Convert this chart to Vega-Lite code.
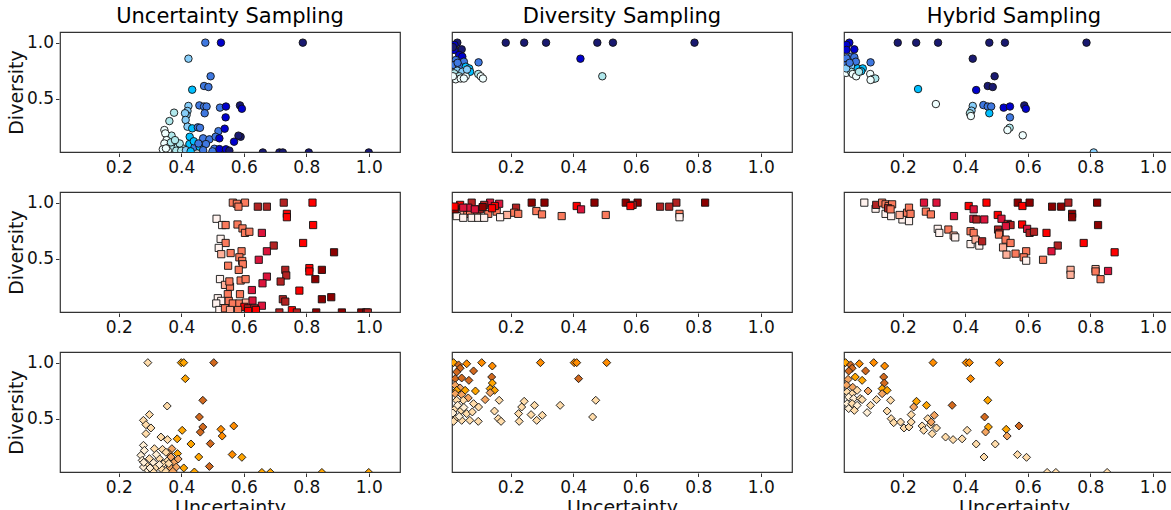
{
"$schema":"https://vega.github.io/schema/vega-lite/v6.json",
"background":"white",
"padding":{"left":7,"top":6,"right":0,"bottom":0},
"config":{
 "font":"DejaVu Sans",
 "view":{"stroke":"#333","strokeWidth":1.2},
 "axis":{"grid":false,"domain":false,"labelFontSize":17,"labelColor":"#111","tickColor":"#333","tickSize":3.5,"labelPadding":2,"titleFontSize":19,"titleFontWeight":"normal","titleColor":"#111","titlePadding":0},
 "axisX":{"labelPadding":3,"titlePadding":3}
},
"datasets":{
"blue":[
{"m":"U","u":0.477,"d":1.0,"c":4},{"m":"U","u":0.527,"d":1.0,"c":5},{"m":"U","u":0.789,"d":1.0,"c":6},{"m":"U","u":0.423,"d":0.857,"c":2},{"m":"U","u":0.494,"d":0.70,"c":4},{"m":"U","u":0.435,"d":0.58,"c":3},{"m":"U","u":0.473,"d":0.613,"c":4},{"m":"U","u":0.487,"d":0.604,"c":4},{"m":"U","u":0.423,"d":0.435,"c":2},{"m":"U","u":0.458,"d":0.44,"c":4},{"m":"U","u":0.473,"d":0.43,"c":4},{"m":"U","u":0.481,"d":0.43,"c":4},{"m":"U","u":0.524,"d":0.42,"c":4},{"m":"U","u":0.543,"d":0.43,"c":5},{"m":"U","u":0.588,"d":0.44,"c":6},{"m":"U","u":0.594,"d":0.41,"c":5},{"m":"U","u":0.42,"d":0.39,"c":2},{"m":"U","u":0.417,"d":0.354,"c":2},{"m":"U","u":0.377,"d":0.375,"c":1},{"m":"U","u":0.362,"d":0.30,"c":1},{"m":"U","u":0.412,"d":0.37,"c":2},{"m":"U","u":0.414,"d":0.31,"c":2},{"m":"U","u":0.475,"d":0.37,"c":4},{"m":"U","u":0.542,"d":0.333,"c":5},{"m":"U","u":0.346,"d":0.22,"c":0},{"m":"U","u":0.369,"d":0.17,"c":1},{"m":"U","u":0.42,"d":0.25,"c":2},{"m":"U","u":0.435,"d":0.235,"c":3},{"m":"U","u":0.453,"d":0.244,"c":4},{"m":"U","u":0.46,"d":0.24,"c":4},{"m":"U","u":0.519,"d":0.21,"c":4},{"m":"U","u":0.539,"d":0.232,"c":5},{"m":"U","u":0.427,"d":0.16,"c":3},{"m":"U","u":0.47,"d":0.146,"c":4},{"m":"U","u":0.49,"d":0.137,"c":4},{"m":"U","u":0.51,"d":0.16,"c":4},{"m":"U","u":0.522,"d":0.146,"c":5},{"m":"U","u":0.59,"d":0.16,"c":6},{"m":"U","u":0.583,"d":0.17,"c":6},{"m":"U","u":0.569,"d":0.116,"c":5},{"m":"U","u":0.426,"d":0.095,"c":3},{"m":"U","u":0.443,"d":0.07,"c":4},{"m":"U","u":0.459,"d":0.07,"c":3},{"m":"U","u":0.479,"d":0.095,"c":4},{"m":"U","u":0.506,"d":0.053,"c":4},{"m":"U","u":0.522,"d":0.05,"c":5},{"m":"U","u":0.543,"d":0.048,"c":5},{"m":"U","u":0.554,"d":0.036,"c":6},{"m":"U","u":0.349,"d":0.19,"c":0},{"m":"U","u":0.353,"d":0.13,"c":0},{"m":"U","u":0.346,"d":0.10,"c":0},{"m":"U","u":0.362,"d":0.07,"c":1},{"m":"U","u":0.373,"d":0.056,"c":1},{"m":"U","u":0.389,"d":0.07,"c":1},{"m":"U","u":0.405,"d":0.056,"c":1},{"m":"U","u":0.341,"d":0.048,"c":0},{"m":"U","u":0.357,"d":0.036,"c":0},{"m":"U","u":0.384,"d":0.036,"c":1},{"m":"U","u":0.4,"d":0.036,"c":1},{"m":"U","u":0.415,"d":0.04,"c":2},{"m":"U","u":0.351,"d":0.056,"c":0},{"m":"U","u":0.367,"d":0.11,"c":1},{"m":"U","u":0.44,"d":0.12,"c":3},{"m":"U","u":0.455,"d":0.1,"c":4},{"m":"U","u":0.395,"d":0.1,"c":1},{"m":"U","u":0.38,"d":0.13,"c":1},{"m":"U","u":0.43,"d":0.03,"c":3},{"m":"U","u":0.47,"d":0.04,"c":4},{"m":"U","u":0.5,"d":0.03,"c":4},{"m":"U","u":0.661,"d":0.02,"c":6},{"m":"U","u":0.714,"d":0.02,"c":6},{"m":"U","u":0.725,"d":0.02,"c":6},{"m":"U","u":0.808,"d":0.02,"c":6},{"m":"U","u":1.0,"d":0.02,"c":6},
{"m":"D","u":0.184,"d":1.0,"c":6},{"m":"D","u":0.243,"d":1.0,"c":6},{"m":"D","u":0.313,"d":1.0,"c":6},{"m":"D","u":0.477,"d":1.0,"c":6},{"m":"D","u":0.527,"d":1.0,"c":6},{"m":"D","u":0.788,"d":1.0,"c":6},{"m":"D","u":0.423,"d":0.857,"c":5},{"m":"D","u":0.493,"d":0.70,"c":1},{"m":"D","u":0.097,"d":0.824,"c":4},{"m":"D","u":0.096,"d":0.72,"c":1},{"m":"D","u":0.104,"d":0.70,"c":0},{"m":"D","u":0.111,"d":0.68,"c":0},{"m":"D","u":0.029,"d":1.0,"c":6},{"m":"D","u":0.02,"d":0.98,"c":5},{"m":"D","u":0.043,"d":0.94,"c":6},{"m":"D","u":0.019,"d":0.935,"c":5},{"m":"D","u":0.035,"d":0.89,"c":5},{"m":"D","u":0.045,"d":0.875,"c":5},{"m":"D","u":0.05,"d":0.83,"c":4},{"m":"D","u":0.024,"d":0.845,"c":4},{"m":"D","u":0.019,"d":0.80,"c":4},{"m":"D","u":0.035,"d":0.79,"c":4},{"m":"D","u":0.056,"d":0.785,"c":3},{"m":"D","u":0.067,"d":0.77,"c":3},{"m":"D","u":0.07,"d":0.74,"c":3},{"m":"D","u":0.029,"d":0.75,"c":2},{"m":"D","u":0.045,"d":0.74,"c":2},{"m":"D","u":0.019,"d":0.726,"c":1},{"m":"D","u":0.035,"d":0.70,"c":1},{"m":"D","u":0.056,"d":0.70,"c":0},{"m":"D","u":0.024,"d":0.673,"c":0},{"m":"D","u":0.04,"d":0.68,"c":0},{"m":"D","u":0.05,"d":0.68,"c":0},{"m":"D","u":0.015,"d":0.96,"c":6},{"m":"D","u":0.03,"d":0.82,"c":4},{"m":"D","u":0.06,"d":0.76,"c":2},{"m":"D","u":0.015,"d":0.70,"c":0},
{"m":"H","u":0.184,"d":1.0,"c":6},{"m":"H","u":0.243,"d":1.0,"c":6},{"m":"H","u":0.313,"d":1.0,"c":6},{"m":"H","u":0.477,"d":1.0,"c":6},{"m":"H","u":0.527,"d":1.0,"c":6},{"m":"H","u":0.788,"d":1.0,"c":6},{"m":"H","u":0.424,"d":0.857,"c":6},{"m":"H","u":0.494,"d":0.70,"c":6},{"m":"H","u":0.435,"d":0.577,"c":5},{"m":"H","u":0.472,"d":0.613,"c":6},{"m":"H","u":0.488,"d":0.604,"c":6},{"m":"H","u":0.249,"d":0.586,"c":3},{"m":"H","u":0.306,"d":0.452,"c":0},{"m":"H","u":0.424,"d":0.435,"c":2},{"m":"H","u":0.42,"d":0.393,"c":2},{"m":"H","u":0.415,"d":0.37,"c":1},{"m":"H","u":0.418,"d":0.345,"c":0},{"m":"H","u":0.458,"d":0.443,"c":4},{"m":"H","u":0.472,"d":0.43,"c":4},{"m":"H","u":0.483,"d":0.43,"c":4},{"m":"H","u":0.477,"d":0.37,"c":3},{"m":"H","u":0.523,"d":0.42,"c":5},{"m":"H","u":0.543,"d":0.43,"c":5},{"m":"H","u":0.543,"d":0.333,"c":4},{"m":"H","u":0.589,"d":0.44,"c":6},{"m":"H","u":0.594,"d":0.41,"c":5},{"m":"H","u":0.542,"d":0.24,"c":1},{"m":"H","u":0.535,"d":0.22,"c":0},{"m":"H","u":0.584,"d":0.173,"c":0},{"m":"H","u":0.811,"d":0.02,"c":2},{"m":"H","u":0.097,"d":0.824,"c":4},{"m":"H","u":0.096,"d":0.72,"c":0},{"m":"H","u":0.104,"d":0.675,"c":0},{"m":"H","u":0.112,"d":0.68,"c":1},{"m":"H","u":0.097,"d":0.667,"c":0},{"m":"H","u":0.029,"d":1.0,"c":5},{"m":"H","u":0.02,"d":0.98,"c":5},{"m":"H","u":0.045,"d":0.94,"c":5},{"m":"H","u":0.02,"d":0.935,"c":5},{"m":"H","u":0.035,"d":0.875,"c":4},{"m":"H","u":0.045,"d":0.87,"c":4},{"m":"H","u":0.05,"d":0.83,"c":4},{"m":"H","u":0.02,"d":0.86,"c":4},{"m":"H","u":0.019,"d":0.80,"c":4},{"m":"H","u":0.035,"d":0.785,"c":2},{"m":"H","u":0.056,"d":0.77,"c":3},{"m":"H","u":0.072,"d":0.77,"c":3},{"m":"H","u":0.067,"d":0.745,"c":3},{"m":"H","u":0.019,"d":0.73,"c":0},{"m":"H","u":0.035,"d":0.74,"c":1},{"m":"H","u":0.04,"d":0.72,"c":0},{"m":"H","u":0.051,"d":0.70,"c":0},{"m":"H","u":0.019,"d":0.77,"c":2},{"m":"H","u":0.03,"d":0.82,"c":4},{"m":"H","u":0.06,"d":0.74,"c":1}
],
"red":[
{"m":"U","u":0.565,"d":1.0,"c":2},{"m":"U","u":0.578,"d":0.99,"c":2},{"m":"U","u":0.604,"d":1.0,"c":2},{"m":"U","u":0.583,"d":0.964,"c":2},{"m":"U","u":0.645,"d":0.964,"c":5},{"m":"U","u":0.674,"d":0.964,"c":5},{"m":"U","u":0.728,"d":1.0,"c":5},{"m":"U","u":0.82,"d":1.0,"c":3},{"m":"U","u":0.738,"d":0.90,"c":3},{"m":"U","u":0.738,"d":0.87,"c":3},{"m":"U","u":0.513,"d":0.856,"c":0},{"m":"U","u":0.531,"d":0.80,"c":0},{"m":"U","u":0.542,"d":0.80,"c":2},{"m":"U","u":0.58,"d":0.805,"c":2},{"m":"U","u":0.596,"d":0.77,"c":2},{"m":"U","u":0.604,"d":0.73,"c":2},{"m":"U","u":0.618,"d":0.74,"c":2},{"m":"U","u":0.658,"d":0.73,"c":4},{"m":"U","u":0.822,"d":0.80,"c":3},{"m":"U","u":0.526,"d":0.677,"c":0},{"m":"U","u":0.542,"d":0.64,"c":2},{"m":"U","u":0.52,"d":0.596,"c":0},{"m":"U","u":0.528,"d":0.54,"c":1},{"m":"U","u":0.558,"d":0.55,"c":2},{"m":"U","u":0.593,"d":0.566,"c":2},{"m":"U","u":0.586,"d":0.512,"c":2},{"m":"U","u":0.595,"d":0.48,"c":2},{"m":"U","u":0.597,"d":0.45,"c":2},{"m":"U","u":0.696,"d":0.617,"c":5},{"m":"U","u":0.674,"d":0.566,"c":4},{"m":"U","u":0.648,"d":0.49,"c":4},{"m":"U","u":0.79,"d":0.64,"c":3},{"m":"U","u":0.889,"d":0.557,"c":6},{"m":"U","u":0.55,"d":0.437,"c":2},{"m":"U","u":0.584,"d":0.40,"c":2},{"m":"U","u":0.524,"d":0.318,"c":0},{"m":"U","u":0.54,"d":0.266,"c":1},{"m":"U","u":0.556,"d":0.25,"c":2},{"m":"U","u":0.554,"d":0.297,"c":2},{"m":"U","u":0.59,"d":0.305,"c":2},{"m":"U","u":0.606,"d":0.317,"c":2},{"m":"U","u":0.674,"d":0.34,"c":4},{"m":"U","u":0.66,"d":0.28,"c":4},{"m":"U","u":0.733,"d":0.40,"c":5},{"m":"U","u":0.736,"d":0.35,"c":5},{"m":"U","u":0.718,"d":0.296,"c":5},{"m":"U","u":0.81,"d":0.416,"c":3},{"m":"U","u":0.81,"d":0.386,"c":3},{"m":"U","u":0.85,"d":0.40,"c":6},{"m":"U","u":0.829,"d":0.317,"c":6},{"m":"U","u":0.626,"d":0.22,"c":4},{"m":"U","u":0.778,"d":0.215,"c":3},{"m":"U","u":0.85,"d":0.138,"c":6},{"m":"U","u":0.88,"d":0.156,"c":6},{"m":"U","u":0.725,"d":0.138,"c":5},{"m":"U","u":0.733,"d":0.117,"c":5},{"m":"U","u":0.588,"d":0.183,"c":2},{"m":"U","u":0.549,"d":0.183,"c":2},{"m":"U","u":0.517,"d":0.147,"c":0},{"m":"U","u":0.528,"d":0.123,"c":0},{"m":"U","u":0.512,"d":0.10,"c":0},{"m":"U","u":0.552,"d":0.123,"c":2},{"m":"U","u":0.565,"d":0.10,"c":2},{"m":"U","u":0.586,"d":0.10,"c":2},{"m":"U","u":0.607,"d":0.108,"c":1},{"m":"U","u":0.628,"d":0.126,"c":4},{"m":"U","u":0.658,"d":0.08,"c":4},{"m":"U","u":0.602,"d":0.07,"c":3},{"m":"U","u":0.613,"d":0.057,"c":5},{"m":"U","u":0.634,"d":0.057,"c":5},{"m":"U","u":0.522,"d":0.042,"c":0},{"m":"U","u":0.54,"d":0.057,"c":2},{"m":"U","u":0.556,"d":0.042,"c":1},{"m":"U","u":0.582,"d":0.042,"c":2},{"m":"U","u":0.614,"d":0.033,"c":3},{"m":"U","u":0.639,"d":0.042,"c":3},{"m":"U","u":0.714,"d":0.02,"c":5},{"m":"U","u":0.754,"d":0.04,"c":3},{"m":"U","u":0.77,"d":0.02,"c":5},{"m":"U","u":0.832,"d":0.02,"c":6},{"m":"U","u":0.914,"d":0.02,"c":6},{"m":"U","u":0.976,"d":0.02,"c":6},{"m":"U","u":0.992,"d":0.02,"c":6},{"m":"U","u":0.997,"d":0.02,"c":5},
{"m":"D","u":0.267,"d":1.0,"c":6},{"m":"D","u":0.308,"d":1.0,"c":6},{"m":"D","u":0.468,"d":1.0,"c":6},{"m":"D","u":0.568,"d":1.0,"c":6},{"m":"D","u":0.606,"d":1.0,"c":6},{"m":"D","u":0.73,"d":1.0,"c":5},{"m":"D","u":0.822,"d":1.0,"c":6},{"m":"D","u":0.59,"d":0.98,"c":5},{"m":"D","u":0.583,"d":0.97,"c":3},{"m":"D","u":0.411,"d":0.97,"c":3},{"m":"D","u":0.425,"d":0.94,"c":4},{"m":"D","u":0.217,"d":0.955,"c":5},{"m":"D","u":0.678,"d":0.964,"c":5},{"m":"D","u":0.707,"d":0.964,"c":5},{"m":"D","u":0.74,"d":0.90,"c":2},{"m":"D","u":0.74,"d":0.87,"c":0},{"m":"D","u":0.282,"d":0.925,"c":2},{"m":"D","u":0.30,"d":0.895,"c":2},{"m":"D","u":0.504,"d":0.89,"c":2},{"m":"D","u":0.363,"d":0.88,"c":2},{"m":"D","u":0.211,"d":0.91,"c":2},{"m":"D","u":0.224,"d":0.90,"c":2},{"m":"D","u":0.188,"d":0.89,"c":1},{"m":"D","u":0.027,"d":0.895,"c":2},{"m":"D","u":0.053,"d":0.90,"c":2},{"m":"D","u":0.091,"d":0.90,"c":2},{"m":"D","u":0.128,"d":0.90,"c":2},{"m":"D","u":0.155,"d":0.92,"c":2},{"m":"D","u":0.038,"d":0.91,"c":1},{"m":"D","u":0.07,"d":0.925,"c":2},{"m":"D","u":0.027,"d":0.88,"c":0},{"m":"D","u":0.048,"d":0.865,"c":0},{"m":"D","u":0.075,"d":0.865,"c":0},{"m":"D","u":0.096,"d":0.865,"c":0},{"m":"D","u":0.115,"d":0.865,"c":0},{"m":"D","u":0.166,"d":0.87,"c":0},{"m":"D","u":0.038,"d":0.98,"c":3},{"m":"D","u":0.075,"d":1.0,"c":5},{"m":"D","u":0.134,"d":1.0,"c":4},{"m":"D","u":0.115,"d":0.98,"c":5},{"m":"D","u":0.163,"d":0.99,"c":4},{"m":"D","u":0.149,"d":0.97,"c":3},{"m":"D","u":0.064,"d":0.955,"c":4},{"m":"D","u":0.101,"d":0.94,"c":5},{"m":"D","u":0.022,"d":0.94,"c":6},{"m":"D","u":0.048,"d":0.955,"c":4},{"m":"D","u":0.11,"d":0.96,"c":6},{"m":"D","u":0.14,"d":0.95,"c":3},{"m":"D","u":0.02,"d":0.965,"c":3},{"m":"D","u":0.085,"d":0.94,"c":4},
{"m":"H","u":0.077,"d":1.0,"c":0},{"m":"H","u":0.113,"d":0.946,"c":0},{"m":"H","u":0.145,"d":0.90,"c":0},{"m":"H","u":0.163,"d":0.88,"c":0},{"m":"H","u":0.199,"d":0.85,"c":0},{"m":"H","u":0.22,"d":0.835,"c":0},{"m":"H","u":0.115,"d":0.98,"c":5},{"m":"H","u":0.134,"d":1.0,"c":2},{"m":"H","u":0.145,"d":0.985,"c":2},{"m":"H","u":0.155,"d":0.97,"c":2},{"m":"H","u":0.166,"d":0.985,"c":2},{"m":"H","u":0.153,"d":0.95,"c":5},{"m":"H","u":0.161,"d":0.94,"c":2},{"m":"H","u":0.19,"d":0.89,"c":1},{"m":"H","u":0.214,"d":0.91,"c":2},{"m":"H","u":0.22,"d":0.955,"c":2},{"m":"H","u":0.225,"d":0.90,"c":2},{"m":"H","u":0.268,"d":1.0,"c":4},{"m":"H","u":0.308,"d":1.0,"c":4},{"m":"H","u":0.274,"d":0.92,"c":2},{"m":"H","u":0.29,"d":0.895,"c":2},{"m":"H","u":0.364,"d":0.88,"c":4},{"m":"H","u":0.411,"d":0.97,"c":3},{"m":"H","u":0.427,"d":0.94,"c":4},{"m":"H","u":0.468,"d":1.0,"c":3},{"m":"H","u":0.426,"d":0.856,"c":4},{"m":"H","u":0.436,"d":0.85,"c":5},{"m":"H","u":0.461,"d":0.85,"c":4},{"m":"H","u":0.504,"d":0.89,"c":3},{"m":"H","u":0.516,"d":0.856,"c":4},{"m":"H","u":0.536,"d":0.81,"c":5},{"m":"H","u":0.545,"d":0.80,"c":5},{"m":"H","u":0.53,"d":0.79,"c":4},{"m":"H","u":0.568,"d":1.0,"c":6},{"m":"H","u":0.583,"d":0.97,"c":3},{"m":"H","u":0.606,"d":1.0,"c":6},{"m":"H","u":0.582,"d":0.805,"c":3},{"m":"H","u":0.598,"d":0.766,"c":4},{"m":"H","u":0.606,"d":0.73,"c":5},{"m":"H","u":0.62,"d":0.74,"c":5},{"m":"H","u":0.66,"d":0.73,"c":3},{"m":"H","u":0.678,"d":0.964,"c":6},{"m":"H","u":0.707,"d":0.964,"c":6},{"m":"H","u":0.73,"d":1.0,"c":5},{"m":"H","u":0.822,"d":1.0,"c":6},{"m":"H","u":0.742,"d":0.90,"c":6},{"m":"H","u":0.742,"d":0.87,"c":6},{"m":"H","u":0.825,"d":0.80,"c":6},{"m":"H","u":0.779,"d":0.64,"c":3},{"m":"H","u":0.878,"d":0.557,"c":3},{"m":"H","u":0.696,"d":0.617,"c":5},{"m":"H","u":0.676,"d":0.566,"c":4},{"m":"H","u":0.649,"d":0.49,"c":2},{"m":"H","u":0.505,"d":0.76,"c":5},{"m":"H","u":0.51,"d":0.73,"c":5},{"m":"H","u":0.508,"d":0.715,"c":2},{"m":"H","u":0.312,"d":0.766,"c":0},{"m":"H","u":0.317,"d":0.73,"c":0},{"m":"H","u":0.346,"d":0.76,"c":2},{"m":"H","u":0.363,"d":0.706,"c":1},{"m":"H","u":0.368,"d":0.69,"c":0},{"m":"H","u":0.417,"d":0.745,"c":2},{"m":"H","u":0.427,"d":0.73,"c":2},{"m":"H","u":0.417,"d":0.63,"c":0},{"m":"H","u":0.433,"d":0.67,"c":1},{"m":"H","u":0.445,"d":0.617,"c":0},{"m":"H","u":0.454,"d":0.655,"c":5},{"m":"H","u":0.521,"d":0.60,"c":1},{"m":"H","u":0.532,"d":0.536,"c":1},{"m":"H","u":0.529,"d":0.67,"c":2},{"m":"H","u":0.545,"d":0.64,"c":2},{"m":"H","u":0.561,"d":0.545,"c":2},{"m":"H","u":0.595,"d":0.566,"c":2},{"m":"H","u":0.587,"d":0.512,"c":2},{"m":"H","u":0.595,"d":0.482,"c":0},{"m":"H","u":0.737,"d":0.40,"c":1},{"m":"H","u":0.737,"d":0.356,"c":1},{"m":"H","u":0.817,"d":0.407,"c":1},{"m":"H","u":0.817,"d":0.386,"c":2},{"m":"H","u":0.833,"d":0.317,"c":2},{"m":"H","u":0.857,"d":0.39,"c":4}
],
"orange":[
{"m":"U","u":0.293,"d":1.0,"c":1},{"m":"U","u":0.40,"d":1.0,"c":3},{"m":"U","u":0.408,"d":1.0,"c":3},{"m":"U","u":0.504,"d":1.0,"c":5},{"m":"U","u":0.413,"d":0.857,"c":3},{"m":"U","u":0.355,"d":0.613,"c":1},{"m":"U","u":0.469,"d":0.664,"c":5},{"m":"U","u":0.298,"d":0.536,"c":1},{"m":"U","u":0.279,"d":0.485,"c":1},{"m":"U","u":0.287,"d":0.446,"c":1},{"m":"U","u":0.303,"d":0.417,"c":1},{"m":"U","u":0.458,"d":0.515,"c":5},{"m":"U","u":0.469,"d":0.426,"c":5},{"m":"U","u":0.461,"d":0.38,"c":5},{"m":"U","u":0.403,"d":0.396,"c":3},{"m":"U","u":0.527,"d":0.405,"c":4},{"m":"U","u":0.531,"d":0.345,"c":4},{"m":"U","u":0.568,"d":0.435,"c":4},{"m":"U","u":0.287,"d":0.366,"c":1},{"m":"U","u":0.335,"d":0.336,"c":1},{"m":"U","u":0.356,"d":0.313,"c":1},{"m":"U","u":0.387,"d":0.32,"c":3},{"m":"U","u":0.431,"d":0.274,"c":3},{"m":"U","u":0.493,"d":0.277,"c":5},{"m":"U","u":0.279,"d":0.262,"c":0},{"m":"U","u":0.282,"d":0.217,"c":0},{"m":"U","u":0.314,"d":0.232,"c":1},{"m":"U","u":0.34,"d":0.226,"c":1},{"m":"U","u":0.37,"d":0.232,"c":2},{"m":"U","u":0.361,"d":0.188,"c":2},{"m":"U","u":0.388,"d":0.188,"c":3},{"m":"U","u":0.456,"d":0.158,"c":3},{"m":"U","u":0.563,"d":0.18,"c":4},{"m":"U","u":0.594,"d":0.155,"c":3},{"m":"U","u":0.408,"d":0.06,"c":3},{"m":"U","u":0.442,"d":0.024,"c":3},{"m":"U","u":0.49,"d":0.074,"c":5},{"m":"U","u":0.271,"d":0.173,"c":0},{"m":"U","u":0.275,"d":0.128,"c":0},{"m":"U","u":0.287,"d":0.09,"c":1},{"m":"U","u":0.298,"d":0.143,"c":1},{"m":"U","u":0.311,"d":0.107,"c":0},{"m":"U","u":0.32,"d":0.068,"c":1},{"m":"U","u":0.33,"d":0.143,"c":1},{"m":"U","u":0.343,"d":0.098,"c":1},{"m":"U","u":0.357,"d":0.128,"c":1},{"m":"U","u":0.364,"d":0.068,"c":2},{"m":"U","u":0.378,"d":0.113,"c":2},{"m":"U","u":0.384,"d":0.068,"c":2},{"m":"U","u":0.293,"d":0.04,"c":0},{"m":"U","u":0.309,"d":0.03,"c":1},{"m":"U","u":0.338,"d":0.048,"c":1},{"m":"U","u":0.351,"d":0.03,"c":1},{"m":"U","u":0.373,"d":0.03,"c":2},{"m":"U","u":0.279,"d":0.068,"c":0},{"m":"U","u":0.367,"d":0.158,"c":2},{"m":"U","u":0.351,"d":0.20,"c":1},{"m":"U","u":0.32,"d":0.18,"c":0},{"m":"U","u":0.3,"d":0.06,"c":0},{"m":"U","u":0.33,"d":0.09,"c":0},{"m":"U","u":0.36,"d":0.1,"c":1},{"m":"U","u":0.39,"d":0.14,"c":2},{"m":"U","u":0.28,"d":0.11,"c":0},{"m":"U","u":0.658,"d":0.02,"c":3},{"m":"U","u":0.685,"d":0.02,"c":3},{"m":"U","u":0.85,"d":0.02,"c":3},{"m":"U","u":1.0,"d":0.02,"c":3},
{"m":"D","u":0.017,"d":1.0,"c":3},{"m":"D","u":0.033,"d":0.98,"c":5},{"m":"D","u":0.038,"d":0.95,"c":5},{"m":"D","u":0.027,"d":0.917,"c":5},{"m":"D","u":0.059,"d":0.99,"c":4},{"m":"D","u":0.107,"d":1.0,"c":4},{"m":"D","u":0.141,"d":0.97,"c":4},{"m":"D","u":0.081,"d":0.926,"c":5},{"m":"D","u":0.295,"d":1.0,"c":4},{"m":"D","u":0.403,"d":1.0,"c":4},{"m":"D","u":0.411,"d":1.0,"c":4},{"m":"D","u":0.507,"d":1.0,"c":4},{"m":"D","u":0.417,"d":0.857,"c":5},{"m":"D","u":0.022,"d":0.857,"c":5},{"m":"D","u":0.043,"d":0.863,"c":5},{"m":"D","u":0.066,"d":0.842,"c":5},{"m":"D","u":0.139,"d":0.872,"c":5},{"m":"D","u":0.141,"d":0.818,"c":3},{"m":"D","u":0.022,"d":0.798,"c":2},{"m":"D","u":0.038,"d":0.774,"c":2},{"m":"D","u":0.054,"d":0.753,"c":3},{"m":"D","u":0.027,"d":0.753,"c":3},{"m":"D","u":0.087,"d":0.747,"c":3},{"m":"D","u":0.134,"d":0.768,"c":3},{"m":"D","u":0.148,"d":0.753,"c":3},{"m":"D","u":0.134,"d":0.732,"c":2},{"m":"D","u":0.118,"d":0.67,"c":2},{"m":"D","u":0.022,"d":0.723,"c":2},{"m":"D","u":0.043,"d":0.714,"c":2},{"m":"D","u":0.064,"d":0.685,"c":2},{"m":"D","u":0.048,"d":0.664,"c":1},{"m":"D","u":0.027,"d":0.664,"c":1},{"m":"D","u":0.081,"d":0.634,"c":1},{"m":"D","u":0.097,"d":0.604,"c":1},{"m":"D","u":0.163,"d":0.664,"c":1},{"m":"D","u":0.148,"d":0.568,"c":1},{"m":"D","u":0.16,"d":0.5,"c":1},{"m":"D","u":0.169,"d":0.476,"c":1},{"m":"D","u":0.022,"d":0.589,"c":1},{"m":"D","u":0.041,"d":0.574,"c":1},{"m":"D","u":0.059,"d":0.545,"c":1},{"m":"D","u":0.077,"d":0.56,"c":1},{"m":"D","u":0.022,"d":0.5,"c":1},{"m":"D","u":0.043,"d":0.485,"c":1},{"m":"D","u":0.069,"d":0.485,"c":1},{"m":"D","u":0.096,"d":0.476,"c":1},{"m":"D","u":0.017,"d":0.476,"c":1},{"m":"D","u":0.243,"d":0.655,"c":1},{"m":"D","u":0.235,"d":0.604,"c":1},{"m":"D","u":0.225,"d":0.545,"c":1},{"m":"D","u":0.227,"d":0.476,"c":1},{"m":"D","u":0.276,"d":0.619,"c":1},{"m":"D","u":0.265,"d":0.536,"c":1},{"m":"D","u":0.283,"d":0.485,"c":1},{"m":"D","u":0.301,"d":0.53,"c":1},{"m":"D","u":0.358,"d":0.619,"c":1},{"m":"D","u":0.472,"d":0.664,"c":1},{"m":"D","u":0.462,"d":0.515,"c":1},{"m":"D","u":0.03,"d":0.62,"c":0},{"m":"D","u":0.05,"d":0.6,"c":0},{"m":"D","u":0.015,"d":0.55,"c":0},{"m":"D","u":0.035,"d":0.52,"c":0},
{"m":"H","u":0.017,"d":1.0,"c":3},{"m":"H","u":0.033,"d":0.98,"c":5},{"m":"H","u":0.038,"d":0.95,"c":5},{"m":"H","u":0.027,"d":0.925,"c":5},{"m":"H","u":0.061,"d":0.99,"c":4},{"m":"H","u":0.107,"d":1.0,"c":4},{"m":"H","u":0.142,"d":0.97,"c":4},{"m":"H","u":0.081,"d":0.926,"c":5},{"m":"H","u":0.297,"d":1.0,"c":4},{"m":"H","u":0.403,"d":1.0,"c":4},{"m":"H","u":0.413,"d":1.0,"c":4},{"m":"H","u":0.509,"d":1.0,"c":4},{"m":"H","u":0.417,"d":0.857,"c":4},{"m":"H","u":0.025,"d":0.851,"c":2},{"m":"H","u":0.048,"d":0.872,"c":3},{"m":"H","u":0.07,"d":0.842,"c":3},{"m":"H","u":0.139,"d":0.872,"c":5},{"m":"H","u":0.141,"d":0.818,"c":5},{"m":"H","u":0.089,"d":0.747,"c":2},{"m":"H","u":0.134,"d":0.768,"c":3},{"m":"H","u":0.15,"d":0.753,"c":3},{"m":"H","u":0.134,"d":0.723,"c":2},{"m":"H","u":0.116,"d":0.67,"c":1},{"m":"H","u":0.097,"d":0.619,"c":1},{"m":"H","u":0.086,"d":0.554,"c":0},{"m":"H","u":0.04,"d":0.78,"c":2},{"m":"H","u":0.02,"d":0.8,"c":2},{"m":"H","u":0.022,"d":0.738,"c":1},{"m":"H","u":0.038,"d":0.723,"c":1},{"m":"H","u":0.054,"d":0.753,"c":1},{"m":"H","u":0.027,"d":0.693,"c":0},{"m":"H","u":0.043,"d":0.68,"c":0},{"m":"H","u":0.064,"d":0.68,"c":1},{"m":"H","u":0.022,"d":0.634,"c":0},{"m":"H","u":0.038,"d":0.634,"c":1},{"m":"H","u":0.054,"d":0.619,"c":0},{"m":"H","u":0.027,"d":0.59,"c":0},{"m":"H","u":0.045,"d":0.574,"c":1},{"m":"H","u":0.07,"d":0.67,"c":1},{"m":"H","u":0.472,"d":0.664,"c":3},{"m":"H","u":0.462,"d":0.515,"c":5},{"m":"H","u":0.474,"d":0.426,"c":3},{"m":"H","u":0.465,"d":0.381,"c":2},{"m":"H","u":0.358,"d":0.619,"c":5},{"m":"H","u":0.244,"d":0.655,"c":3},{"m":"H","u":0.235,"d":0.604,"c":2},{"m":"H","u":0.276,"d":0.619,"c":3},{"m":"H","u":0.301,"d":0.53,"c":2},{"m":"H","u":0.531,"d":0.405,"c":3},{"m":"H","u":0.534,"d":0.345,"c":2},{"m":"H","u":0.572,"d":0.435,"c":5},{"m":"H","u":0.161,"d":0.664,"c":1},{"m":"H","u":0.15,"d":0.568,"c":1},{"m":"H","u":0.163,"d":0.5,"c":1},{"m":"H","u":0.171,"d":0.464,"c":1},{"m":"H","u":0.193,"d":0.47,"c":1},{"m":"H","u":0.204,"d":0.417,"c":1},{"m":"H","u":0.22,"d":0.426,"c":1},{"m":"H","u":0.227,"d":0.47,"c":1},{"m":"H","u":0.227,"d":0.536,"c":1},{"m":"H","u":0.262,"d":0.435,"c":1},{"m":"H","u":0.267,"d":0.396,"c":1},{"m":"H","u":0.28,"d":0.5,"c":1},{"m":"H","u":0.289,"d":0.446,"c":1},{"m":"H","u":0.294,"d":0.366,"c":1},{"m":"H","u":0.308,"d":0.417,"c":1},{"m":"H","u":0.291,"d":0.47,"c":2},{"m":"H","u":0.337,"d":0.336,"c":1},{"m":"H","u":0.361,"d":0.313,"c":1},{"m":"H","u":0.39,"d":0.32,"c":1},{"m":"H","u":0.406,"d":0.396,"c":1},{"m":"H","u":0.435,"d":0.274,"c":1},{"m":"H","u":0.46,"d":0.158,"c":1},{"m":"H","u":0.496,"d":0.274,"c":1},{"m":"H","u":0.567,"d":0.179,"c":1},{"m":"H","u":0.596,"d":0.155,"c":1},{"m":"H","u":0.662,"d":0.02,"c":1},{"m":"H","u":0.69,"d":0.02,"c":1},{"m":"H","u":0.854,"d":0.02,"c":1}
]
},
"resolve":{"scale":{"color":"independent"}},
"spacing":15,
"vconcat":[
{"data":{"name":"blue"},
 "facet":{"column":{"field":"m","type":"nominal","sort":["U","D","H"],"header":{"title":null,"labelExpr":"datum.value=='U'?'Uncertainty Sampling':datum.value=='D'?'Diversity Sampling':'Hybrid Sampling'","labelFontSize":21,"labelColor":"#000","labelPadding":4,"labelFont":"DejaVu Sans"}}},
 "spacing":50,
 "spec":{"width":340,"height":120,
  "mark":{"type":"point","shape":"circle","filled":true,"size":56,"stroke":"#111","strokeWidth":0.9,"opacity":1,"clip":true},
  "encoding":{
   "x":{"field":"u","type":"quantitative","scale":{"domain":[0.012,1.1],"nice":false,"zero":false},"axis":{"values":[0.2,0.4,0.6,0.8,1.0],"format":".1f","title":null}},
   "y":{"field":"d","type":"quantitative","scale":{"domain":[0.024,1.095],"nice":false,"zero":false},"axis":{"values":[0.5,1.0],"format":".1f","title":"Diversity"}},
   "color":{"field":"c","type":"quantitative","scale":{"domain":[0,1,2,3,4,5,6],"range":["#f0ffff","#b0e8ec","#87cefa","#00bfff","#3f78e0","#0000cd","#191970"]},"legend":null}
  }}
},
{"data":{"name":"red"},
 "facet":{"column":{"field":"m","type":"nominal","sort":["U","D","H"],"header":{"title":null,"labels":false}}},
 "spacing":50,
 "spec":{"width":340,"height":120,
  "mark":{"type":"point","shape":"square","filled":true,"size":52,"stroke":"#111","strokeWidth":0.9,"opacity":1,"clip":true},
  "encoding":{
   "x":{"field":"u","type":"quantitative","scale":{"domain":[0.012,1.1],"nice":false,"zero":false},"axis":{"values":[0.2,0.4,0.6,0.8,1.0],"format":".1f","title":null}},
   "y":{"field":"d","type":"quantitative","scale":{"domain":[0.024,1.095],"nice":false,"zero":false},"axis":{"values":[0.5,1.0],"format":".1f","title":"Diversity"}},
   "color":{"field":"c","type":"quantitative","scale":{"domain":[0,1,2,3,4,5,6],"range":["#fff2ee","#ffb09a","#fa7a5c","#ff0000","#dc143c","#b22222","#8b0000"]},"legend":null}
  }}
},
{"data":{"name":"orange"},
 "facet":{"column":{"field":"m","type":"nominal","sort":["U","D","H"],"header":{"title":null,"labels":false}}},
 "spacing":50,
 "spec":{"width":340,"height":120,
  "mark":{"type":"point","shape":"diamond","filled":true,"size":64,"stroke":"#111","strokeWidth":0.9,"opacity":1,"clip":true},
  "encoding":{
   "x":{"field":"u","type":"quantitative","scale":{"domain":[0.012,1.1],"nice":false,"zero":false},"axis":{"values":[0.2,0.4,0.6,0.8,1.0],"format":".1f","title":"Uncertainty"}},
   "y":{"field":"d","type":"quantitative","scale":{"domain":[0.024,1.095],"nice":false,"zero":false},"axis":{"values":[0.5,1.0],"format":".1f","title":"Diversity"}},
   "color":{"field":"c","type":"quantitative","scale":{"domain":[0,1,2,3,4,5],"range":["#ffefd5","#ffdcaa","#f4a460","#ffa500","#ff8c00","#d2691e"]},"legend":null}
  }}
}
]
}
